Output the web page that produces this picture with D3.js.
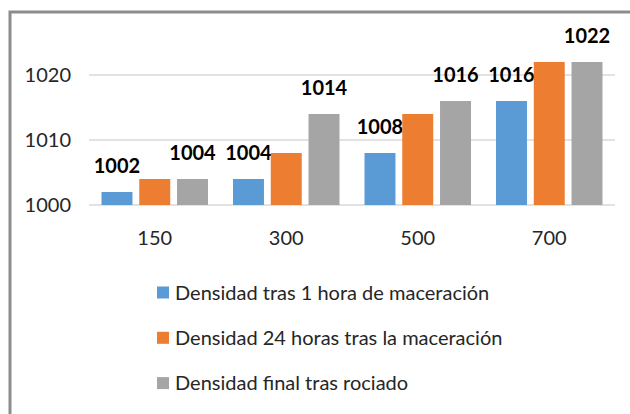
<!DOCTYPE html>
<html>
<head>
<meta charset="utf-8">
<script src="https://cdn.jsdelivr.net/npm/d3@7"></script>
<style>
  body { margin: 0; background: #fff; }
  svg { display: block; font-family: Lato, "Open Sans", sans-serif; }
</style>
</head>
<body>
<svg id="chart" width="630" height="414"></svg>
<script>
// categories and series
var categories = ["150", "300", "500", "700"];
var seriesNames = [
	"Densidad tras 1 hora de maceración",
	"Densidad 24 horas tras la maceración",
	"Densidad final tras rociado"
];
var hora1 = [1002, 1004, 1008, 1016];
var horas24 = [1004, 1008, 1014, 1022];
var finalRociado = [1004, 1014, 1016, 1022];
var yTicks = [1000, 1010, 1020];

var colors = ["#5B9BD5", "#ED7D31", "#A5A5A5"];
var series = [hora1, horas24, finalRociado];
// only the first and last series carry value labels in the original
var showLabels = [true, false, true];

var svg = d3.select("#chart");

// frame (only left and top edges are visible in the picture)
svg.append("path")
	.attr("d", "M 10 414 L 10 12 L 630 12")
	.attr("fill", "none")
	.attr("stroke", "#8c8c8c")
	.attr("stroke-width", 3);

var x = d3.scaleBand().domain(categories).range([89, 615]);
var xs = d3.scaleBand().domain(d3.range(3)).range([12.5, 119]).paddingInner(0.18);
var y = d3.scaleLinear().domain([1000, 1025]).range([205, 42.5]);

// gridlines
svg.append("g").selectAll("line")
	.data(yTicks)
	.join("line")
	.attr("x1", 89).attr("x2", 615)
	.attr("y1", function (d) { return y(d) }).attr("y2", function (d) { return y(d) })
	.attr("stroke", "#d9d9d9")
	.attr("stroke-width", 1.3);

// y tick labels
svg.append("g").selectAll("text")
	.data(yTicks)
	.join("text")
	.attr("x", 71)
	.attr("y", function (d) { return y(d) })
	.attr("dy", "0.35em")
	.attr("text-anchor", "end")
	.attr("fill", "#262626")
	.style("font-size", "20px")
	.text(function (d) { return d });

// category labels
svg.append("g").selectAll("text")
	.data(categories)
	.join("text")
	.attr("x", function (d) { return x(d) + x.bandwidth() / 2 })
	.attr("y", 238)
	.attr("dy", "0.35em")
	.attr("text-anchor", "middle")
	.attr("fill", "#262626")
	.style("font-size", "20px")
	.text(function (d) { return d });

// bars + value labels
series.forEach(function (vals, s) {
	var g = svg.append("g");
	g.selectAll("rect")
		.data(vals)
		.join("rect")
		.attr("x", function (d, i) { return x(categories[i]) + xs(s) })
		.attr("width", xs.bandwidth())
		.attr("y", function (d) { return y(d) })
		.attr("height", function (d) { return y(1000) - y(d) })
		.attr("fill", colors[s]);

	if (!showLabels[s]) return;

	g.selectAll("text")
		.data(vals)
		.join("text")
		.attr("x", function (d, i) { return x(categories[i]) + xs(s) + xs.bandwidth() / 2 })
		.attr("y", function (d) { return y(d) - 19 })
		.attr("text-anchor", "middle")
		.attr("fill", "#000")
		.style("font-size", "20px")
		.style("font-weight", "bold")
		.text(function (d) { return d });
});

// legend
var legend = svg.append("g").selectAll("g")
	.data(seriesNames)
	.join("g")
	.attr("transform", function (d, i) { return "translate(157," + (292.5 + i * 45.3) + ")" });

legend.append("rect")
	.attr("x", 0).attr("y", -6)
	.attr("width", 12).attr("height", 12)
	.attr("fill", function (d, i) { return colors[i] });

legend.append("text")
	.attr("x", 18)
	.attr("dy", "0.35em")
	.attr("fill", "#262626")
	.style("font-size", "20px")
	.text(function (d) { return d });
</script>
</body>
</html>
